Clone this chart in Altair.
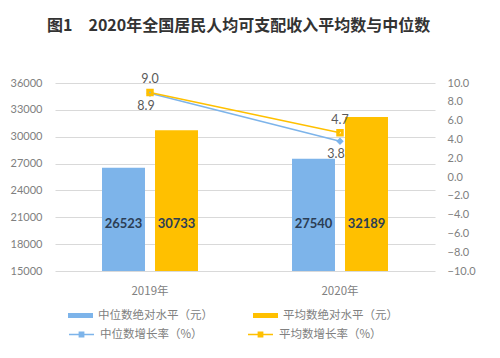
import altair as alt
import pandas as pd

years = ["2019年", "2020年"]
median_income = [26523, 27540]
mean_income = [30733, 32189]
median_growth = [8.9, 3.8]
mean_growth = [9.0, 4.7]
bar_names = ["中位数绝对水平（元）", "平均数绝对水平（元）"]
line_names = ["中位数增长率（%）", "平均数增长率（%）"]
bar_colors = ["#7db4ea", "#ffc000"]
line_colors = ["#7db4ea", "#ffc000"]
left_ticks = [15000, 18000, 21000, 24000, 27000, 30000, 33000, 36000]
right_ticks = [-10, -8, -6, -4, -2, 0, 2, 4, 6, 8, 10]

bars_df = pd.DataFrame({
    "year": years * 2,
    "series": [bar_names[0]] * 2 + [bar_names[1]] * 2,
    "value": median_income + mean_income,
})
rates_df = pd.DataFrame({
    "year": years * 2,
    "series": [line_names[0]] * 2 + [line_names[1]] * 2,
    "rate": median_growth + mean_growth,
})

FONT = "Lato, 'Noto Sans CJK SC', sans-serif"
CJK = "'Noto Sans CJK SC', sans-serif"

fill_legend = alt.Legend(
    title=None, orient="none", legendX=13, legendY=220, direction="horizontal",
    columns=2, columnPadding=40, symbolSize=625, symbolOffset=0,
    symbolType="M-1,-0.2H1V0.2H-1Z", symbolStrokeWidth=0, symbolOpacity=1,
    labelFont=CJK, labelFontSize=11.5, labelColor="#808080", labelOffset=5,
)
stroke_legend = alt.Legend(
    title=None, orient="none", legendX=13, legendY=238, direction="horizontal",
    columns=2, columnPadding=42, symbolSize=625, symbolOffset=0,
    symbolType="M-1,0H1M-0.18,-0.18H0.18V0.18H-0.18ZM-0.08,-0.08H0.08V0.08H-0.08Z",
    symbolStrokeWidth=1.3, symbolOpacity=1,
    labelFont=CJK, labelFontSize=11.5, labelColor="#808080", labelOffset=5,
)
fill = alt.Fill("series:N", sort=bar_names, scale=alt.Scale(domain=bar_names, range=bar_colors), legend=fill_legend)
stroke = alt.Stroke("series:N", sort=line_names, scale=alt.Scale(domain=line_names, range=line_colors), legend=stroke_legend)

x = alt.X("year:N", sort=years, scale=alt.Scale(paddingInner=0, paddingOuter=0),
          axis=alt.Axis(title=None, labelAngle=0, domain=False, ticks=False, labelPadding=14,
                        labelColor="#808080", labelFontSize=11.5, labelFont=CJK))
x_off = alt.XOffset("series:N", sort=bar_names,
                    scale=alt.Scale(domain=bar_names, paddingInner=0.189, paddingOuter=0.887))

left_axis = alt.Axis(values=left_ticks, format="d", labelOverlap=False, title=None, domain=False, ticks=False,
                     gridColor="#d9d9d9", labelColor="#808080", labelPadding=13,
                     labelFontSize=11, labelFont=FONT)
left_scale = alt.Scale(domain=[15000, 36000], nice=False, zero=False)
y_left = alt.Y("value:Q", scale=left_scale, axis=left_axis)

bars = alt.Chart(bars_df).mark_bar().encode(
    x=x, xOffset=x_off, y=y_left, y2=alt.Y2(datum=15000), fill=fill,
)
bar_text = alt.Chart(bars_df).mark_text(fontSize=13, fontWeight="bold", color="#2c3e55", font=FONT).encode(
    x=x, xOffset=x_off, y=alt.Y(datum=20300, scale=left_scale, axis=left_axis),
    text=alt.Text("value:Q", format="d"),
)
left = alt.layer(bars, bar_text)

right_axis = alt.Axis(orient="right", values=right_ticks, format=".1f", labelOverlap=False, title=None, grid=False,
                      domain=False, ticks=False, labelColor="#808080", labelPadding=12,
                      labelFontSize=11, labelFont=FONT)
right_scale = alt.Scale(domain=[-10, 10], nice=False)
y_right = alt.Y("rate:Q", scale=right_scale, axis=right_axis)

lines = alt.Chart(rates_df).mark_line(strokeWidth=1.5).encode(x=x, y=y_right, stroke=stroke)
median_points = alt.Chart(rates_df).transform_filter(
    alt.datum.series == line_names[0]
).mark_point(shape="diamond", size=10, filled=False, strokeWidth=3, opacity=1).encode(
    x=x, y=y_right, stroke=stroke)
mean_points = alt.Chart(rates_df).transform_filter(
    alt.datum.series == line_names[1]
).mark_point(shape="square", size=20, filled=False, strokeWidth=3, opacity=1).encode(
    x=x, y=y_right, stroke=stroke)
mean_text = alt.Chart(rates_df).transform_filter(
    alt.datum.series == line_names[1]
).mark_text(dy=-13, fontSize=12.5, color="#595959", font=FONT).encode(
    x=x, y=y_right, text=alt.Text("rate:Q", format=".1f"))
median_text = alt.Chart(rates_df).transform_filter(
    alt.datum.series == line_names[0]
).mark_text(dy=13, dx=-4, fontSize=12.5, color="#595959", font=FONT).encode(
    x=x, y=y_right, text=alt.Text("rate:Q", format=".1f"))
right = alt.layer(lines, median_points, mean_points, mean_text, median_text)

chart = alt.layer(left, right).resolve_scale(y="independent").properties(
    width=380, height=188,
    autosize=alt.AutoSizeParams(type="none"),
    padding={"left": 47, "top": 75, "right": 57, "bottom": 79},
    title=alt.TitleParams(
        "图1\u20032020年全国居民人均可支配收入平均数与中位数",
        anchor="start", frame="group", dx=-8, offset=39,
        font="'Noto Sans CJK SC', sans-serif", fontSize=16, fontWeight="bold", color="#333333",
    ),
).configure_view(stroke=None)

chart.save("out.html", embed_options={"renderer": "svg", "actions": False})
